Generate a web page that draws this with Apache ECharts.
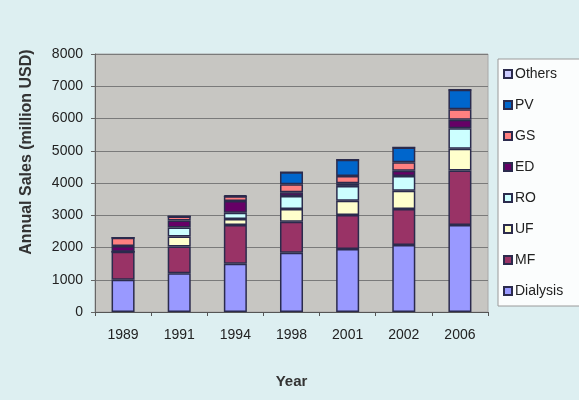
<!DOCTYPE html>
<html>
<head>
<meta charset="utf-8">
<script src="https://cdn.jsdelivr.net/npm/echarts@6/dist/echarts.min.js"></script>
<style>
  html, body { margin: 0; padding: 0; background: #ddeff1; }
  #chart { width: 579px; height: 400px; }
</style>
</head>
<body>
<div id="chart"></div>
<script>
  // years on the x axis
  var years = ['1989', '1991', '1994', '1998', '2001', '2002', '2006'];
  // sales per segment (million USD)
  var dialysis = [1000, 1200, 1500, 1840, 1950, 2080, 2700];
  var mf = [870, 830, 1200, 960, 1060, 1110, 1690];
  var uf = [0, 310, 180, 390, 440, 570, 670];
  var ro = [0, 280, 200, 410, 460, 460, 640];
  var ed = [180, 220, 360, 110, 80, 160, 260];
  var gs = [250, 120, 150, 250, 230, 260, 330];
  var pv = [0, 0, 0, 370, 500, 460, 600];
  var others = [0, 0, 30, 0, 0, 0, 0];
  var yTicks = [0, 1000, 2000, 3000, 4000, 5000, 6000, 7000, 8000];

  var chart = echarts.init(document.getElementById('chart'));

  function seg(name, data, color) {
    return {
      name: name,
      type: 'bar',
      stack: 'total',
      barWidth: '41%',
      data: data,
      itemStyle: { color: color, borderColor: '#2b2b4d', borderWidth: 1.5 }
    };
  }

  chart.setOption({
    backgroundColor: '#ddeff1',
    animation: false,
    textStyle: { fontFamily: 'Arial, Liberation Sans, sans-serif' },
    grid: {
      left: 95, right: 91, top: 54, bottom: 88,
      show: true, backgroundColor: '#c7c6c2', borderColor: '#a8a8a8', borderWidth: 1
    },
    // y axis title sits a bit above the plot centre in the original
    graphic: [{
      type: 'text',
      x: 27, y: 152,
      rotation: Math.PI / 2,
      style: {
        text: 'Annual Sales (million USD)',
        fontSize: 16, fontWeight: 'bold', fill: '#333',
        fontFamily: 'Arial, Liberation Sans, sans-serif',
        align: 'center', verticalAlign: 'middle'
      }
    }],
    legend: {
      orient: 'vertical',
      left: 498, top: 59,
      data: ['Others', 'PV', 'GS', 'ED', 'RO', 'UF', 'MF', 'Dialysis'],
      icon: 'rect',
      itemWidth: 8, itemHeight: 8,
      itemGap: 17,
      backgroundColor: '#fbfdfd',
      borderColor: '#9a9a9a', borderWidth: 1,
      padding: [8, 20, 8, 5],
      textStyle: { fontSize: 14, color: '#222', lineHeight: 14, padding: [0, 0, 0, -2] }
    },
    xAxis: {
      type: 'category',
      data: years,
      name: 'Year',
      nameLocation: 'middle',
      nameGap: 62,
      nameTextStyle: { fontSize: 15, fontWeight: 'bold', color: '#333' },
      axisLine: { lineStyle: { color: '#555', width: 1 } },
      axisTick: { show: true, length: 4, lineStyle: { color: '#555' } },
      axisLabel: { fontSize: 14, color: '#222', margin: 16 }
    },
    yAxis: {
      type: 'value',
      min: yTicks[0], max: yTicks[yTicks.length - 1], interval: 1000,
      axisLine: { show: true, lineStyle: { color: '#666' } },
      axisTick: { show: true, length: 4, lineStyle: { color: '#666' } },
      axisLabel: { fontSize: 14, color: '#222', margin: 12, formatter: function (v) { return String(v); } },
      splitLine: { lineStyle: { color: '#7a7a7a', width: 1 } }
    },
    series: [
      seg('Dialysis', dialysis, '#9999ff'),
      seg('MF', mf, '#993366'),
      seg('UF', uf, '#ffffcc'),
      seg('RO', ro, '#ccffff'),
      seg('ED', ed, '#660066'),
      seg('GS', gs, '#ff8080'),
      seg('PV', pv, '#0066cc'),
      seg('Others', others, '#ccccff')
    ]
  });
</script>
</body>
</html>
